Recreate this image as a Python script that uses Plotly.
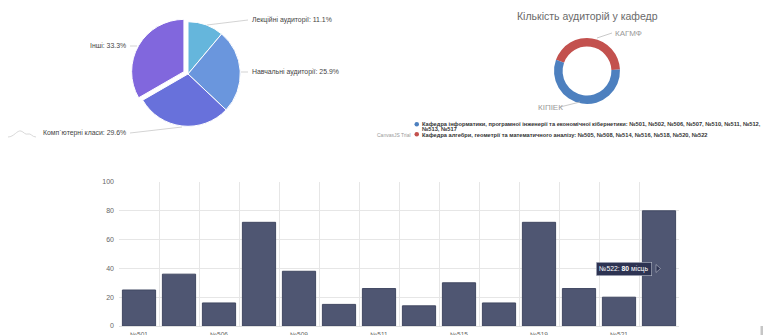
import plotly.graph_objects as go

W, H = 763, 335

def px(x):
    return x / W

def py(y):
    return 1 - y / H

# ---- data ----
room_types = ["Лекційні аудиторії", "Навчальні аудиторії", "Комп`ютерні класи", "Інші"]
room_type_counts = [3, 7, 8, 9]
room_type_colors = ["#65b6dc", "#6a96dd", "#6871db", "#8167dd"]
room_type_pull = [0, 0, 0, 0.09]

departments = ["КАГМФ", "КІПІЕК"]
department_counts = [7, 9]
department_colors = ["#c3514e", "#4d80bf"]

legend_lines = [
    "Кафедра інформатики, програмної інженерії та економічної кібернетики: №501, №502, №506, №507, №510, №511, №512,",
    "№513, №517",
    "Кафедра алгебри, геометрії та математичного аналізу: №505, №508, №514, №516, №518, №520, №522",
]

rooms = ["№501", "№502", "№506", "№507", "№509", "№510", "№511", "№512",
         "№515", "№517", "№519", "№520", "№521", "№522"]
seats = [25, 36, 16, 72, 38, 15, 26, 14, 30, 16, 72, 26, 20, 80]
y_ticks = [0, 20, 40, 60, 80, 100]

fig = go.Figure()

# ---- pie of room types ----
fig.add_trace(go.Pie(
    labels=room_types, values=room_type_counts, sort=False, direction="clockwise",
    rotation=0, pull=room_type_pull, textinfo="none", hoverinfo="none",
    marker=dict(colors=room_type_colors, line=dict(color="white", width=1)),
    domain=dict(x=[px(131), px(245)], y=[py(131), py(17)]),
    showlegend=False,
))

# ---- donut of departments ----
fig.add_trace(go.Pie(
    labels=departments, values=department_counts, sort=False, direction="clockwise",
    rotation=290, hole=0.74, textinfo="none", hoverinfo="none",
    marker=dict(colors=department_colors, line=dict(color="white", width=0)),
    domain=dict(x=[px(554), px(620)], y=[py(104), py(38)]),
    showlegend=False,
))

# ---- bar chart ----
idx = list(range(len(rooms)))
fig.add_trace(go.Bar(
    x=idx, y=seats, marker=dict(color="#4f5672", line=dict(color="#414862", width=1)),
    hoverinfo="none", showlegend=False,
))

fig.update_layout(
    width=W, height=H, margin=dict(l=0, r=0, t=0, b=0),
    paper_bgcolor="white", plot_bgcolor="white",
    bargap=0.17,
    font=dict(family="Liberation Sans, Arial, sans-serif"),
    xaxis=dict(
        domain=[px(119), px(679)], range=[-0.5, len(rooms) - 0.5],
        tickmode="array", tickvals=idx[::2], ticktext=rooms[::2],
        tickfont=dict(size=6.5, color="#666"), showgrid=False, zeroline=False,
        showline=False, ticks="", ticklabelstandoff=3, automargin=False,
        minor=dict(tick0=-0.5, dtick=1, showgrid=True, gridcolor="#e6e6e6", gridwidth=1, ticks=""),
        fixedrange=True,
    ),
    yaxis=dict(
        domain=[py(326), py(182)], range=[0, 100], automargin=False,
        tickmode="array", tickvals=y_ticks, tickfont=dict(size=7, color="#666"),
        showgrid=True, gridcolor="#e6e6e6", gridwidth=1, zeroline=True,
        zerolinecolor="#e0e0e0", zerolinewidth=1, showline=False, ticks="",
        ticklabelstandoff=4,
    ),
)

annotations = []
shapes = []

def label(text, x, y, size, color, anchor="left", bold=False):
    annotations.append(dict(
        text=("<b>%s</b>" % text) if bold else text, x=px(x), y=py(y), xref="paper", yref="paper",
        xanchor=anchor, yanchor="middle", showarrow=False,
        font=dict(size=size, color=color),
    ))

def seg(x0, y0, x1, y1, color="#c8c8c8", w=0.8):
    shapes.append(dict(type="line", xref="paper", yref="paper",
                       x0=px(x0), y0=py(y0), x1=px(x1), y1=py(y1),
                       line=dict(color=color, width=w)))

# pie labels
total = sum(room_type_counts)
pie_lbl = [
    (0, 250, 20, "left", (207, 25, 248, 20)),
    (1, 250, 72, "left", (241, 72, 248, 72)),
    (2, 128, 133, "right", (130, 133, 182, 127)),
    (3, 128, 46, "right", (130, 46, 137, 46)),
]
for i, x, y, anc, ln in pie_lbl:
    pct = room_type_counts[i] / total * 100
    label("%s: %.1f%%" % (room_types[i], pct), x, y, 6.9, "#444", anc)
    seg(*ln)

# small sparkline icon
shapes.append(dict(
    type="path", xref="paper", yref="paper",
    path="M %f,%f C %f,%f %f,%f %f,%f C %f,%f %f,%f %f,%f C %f,%f %f,%f %f,%f" % (
        px(8), py(137), px(14), py(137), px(17), py(130), px(21), py(131),
        px(24), py(132), px(25), py(135), px(28), py(134),
        px(31), py(133), px(32), py(137), px(36), py(137)),
    line=dict(color="#cfcfcf", width=0.8),
))

# donut title and labels
label("Кількість аудиторій у кафедр", 587, 16, 10.5, "#6a6a6a", "center")
label(departments[0], 613, 33, 8, "#9a9a9a")
seg(597, 38, 612, 33, "#bbbbbb")
label(departments[1], 536, 107, 8, "#9a9a9a")
seg(560, 107, 580, 102, "#bbbbbb")

# legend
shapes.append(dict(type="circle", xref="paper", yref="paper",
                   x0=px(414.5), x1=px(419), y0=py(126.5), y1=py(122),
                   fillcolor=department_colors[1], line=dict(width=0)))
shapes.append(dict(type="circle", xref="paper", yref="paper",
                   x0=px(414.5), x1=px(419), y0=py(136.5), y1=py(132),
                   fillcolor=department_colors[0], line=dict(width=0)))
label(legend_lines[0], 420, 124, 5.7, "#333", bold=True)
label(legend_lines[1], 420, 129.3, 5.7, "#333", bold=True)
label(legend_lines[2], 420, 135, 5.7, "#333", bold=True)
annotations.append(dict(text="CanvasJS Trial", x=px(413), y=py(135), xref="paper", yref="paper",
                        xanchor="right", yanchor="middle", showarrow=False,
                        font=dict(size=5, color="#9a9a9a")))

# tooltip
annotations.append(dict(
    text="№522: <b>%d</b> місць" % seats[-1], x=px(623.5), y=py(268.5), xref="paper", yref="paper",
    xanchor="center", yanchor="middle", showarrow=False,
    bgcolor="#2d3352", bordercolor="#b8bcc8", borderwidth=0.6, borderpad=2.5,
    font=dict(size=6.8, color="white"),
))
shapes.append(dict(type="path", xref="paper", yref="paper",
                   path="M %f,%f L %f,%f L %f,%f Z" % (px(656), py(264.5), px(660.5), py(268.5), px(656), py(272.5)),
                   fillcolor="#2d3352", line=dict(color="#b8bcc8", width=0.6)))

# scrollbar fragment at the right edge
shapes.append(dict(type="rect", xref="paper", yref="paper",
                   x0=px(760.5), x1=px(763), y0=py(335), y1=py(326),
                   fillcolor="#c6c6c6", line=dict(width=0)))

fig.update_layout(annotations=annotations, shapes=shapes)
fig.write_html("out.html")
